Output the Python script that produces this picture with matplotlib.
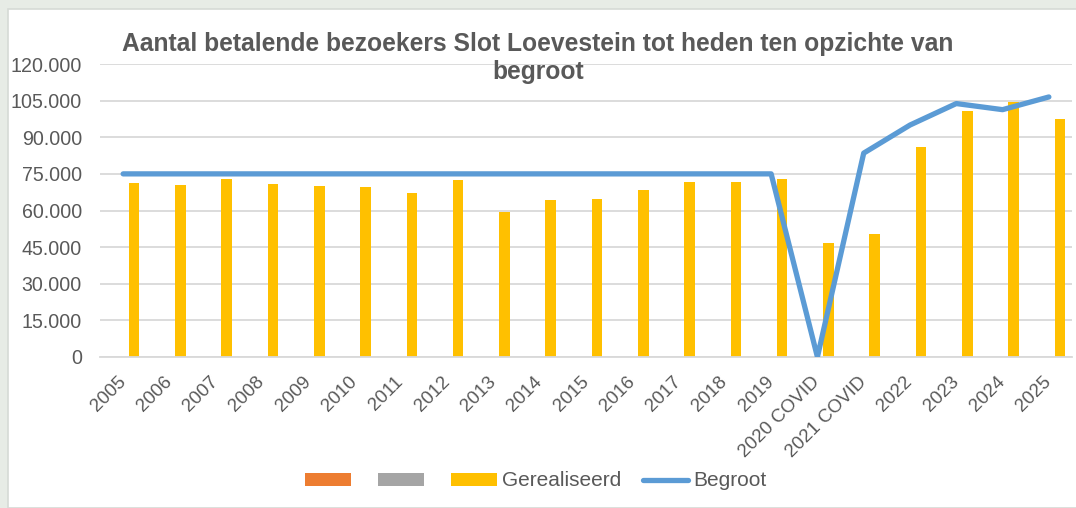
import matplotlib
matplotlib.use("Agg")
import matplotlib.pyplot as plt
import numpy as np
from matplotlib.patches import Patch, Rectangle
from matplotlib.ticker import FuncFormatter

plt.rcParams['font.family'] = ['Liberation Sans', 'DejaVu Sans']

categories = ['2005', '2006', '2007', '2008', '2009', '2010', '2011', '2012',
              '2013', '2014', '2015', '2016', '2017', '2018', '2019',
              '2020 COVID', '2021 COVID', '2022', '2023', '2024', '2025']
gerealiseerd = [71400, 70300, 72900, 70700, 70200, 69500, 67200, 72500,
                59400, 64400, 64800, 68200, 71500, 71800, 72700,
                46700, 50200, 86100, 100600, 104600, 97500]
begroot = [75000, 75000, 75000, 75000, 75000, 75000, 75000, 75000,
           75000, 75000, 75000, 75000, 75000, 75000, 75000,
           0, 83500, 95000, 103800, 101300, 106500]
series1 = [0] * len(categories)   # empty series (orange)
series2 = [0] * len(categories)   # empty series (gray)
yticks = [0, 15000, 30000, 45000, 60000, 75000, 90000, 105000, 120000]
title = 'Aantal betalende bezoekers Slot Loevestein tot heden ten opzichte van\nbegroot'

W, H = 1076, 508
fig = plt.figure(figsize=(W / 100, H / 100), dpi=100)
fig.patch.set_facecolor('#e7ece6')
fig.patches.append(Rectangle((8 / W, 0), 1, 1 - 9 / H, transform=fig.transFigure,
                             facecolor='white', edgecolor='#d6dad6', linewidth=1.2,
                             zorder=-5))

ax = fig.add_axes([100 / W, 1 - 357 / H, (1072 - 100) / W, (357 - 64) / H])
ax.set_zorder(2)
ax.set_facecolor('none')

x = np.arange(len(categories))
bw = 0.227
ax.bar(x - bw, series1, bw, color='#ED7D31', linewidth=0, zorder=2)
ax.bar(x, series2, bw, color='#A5A5A5', linewidth=0, zorder=2)
bars = ax.bar(x + 1.05 * bw, gerealiseerd, bw, color='#FFC000', linewidth=0, zorder=2)
line, = ax.plot(x, begroot, color='#5B9BD5', linewidth=3.8, zorder=3,
                solid_capstyle='round', solid_joinstyle='round')

ax.set_xlim(-0.5, len(categories) - 0.5)
ax.set_ylim(0, 120000)
ax.set_yticks(yticks)
ax.yaxis.set_major_formatter(FuncFormatter(lambda v, p: f'{int(v):,}'.replace(',', '.')))
ax.grid(axis='y', color='#d9d9d9', linewidth=1.3, zorder=0)
ax.set_axisbelow(True)
for s in ['top', 'right', 'left']:
    ax.spines[s].set_visible(False)
ax.spines['bottom'].set_color('#d9d9d9')
ax.spines['bottom'].set_linewidth(1.3)

ax.set_xticks(x)
ax.set_xticklabels(categories, rotation=45, ha='right', va='center',
                   rotation_mode='anchor')
ax.tick_params(axis='x', length=0, pad=16, labelsize=13.5, labelcolor='#595959')
ax.tick_params(axis='y', length=0, pad=13, labelsize=14.1, labelcolor='#595959')

fig.text(0.5, 1 - 79 / H, title, ha='center', va='baseline', fontsize=17.7,
         fontweight='bold', color='#595959', linespacing=1.2)

handles = [Patch(facecolor='#ED7D31'), Patch(facecolor='#A5A5A5'), bars, line]
labels = ['', '', 'Gerealiseerd', 'Begroot']
leg = fig.legend(handles, labels, ncol=4, loc='center',
                 bbox_to_anchor=(536 / W, 1 - 481 / H), frameon=False,
                 fontsize=15, handlelength=2.2, handleheight=0.57,
                 handletextpad=0.24, columnspacing=1.05, labelcolor='#595959')

fig.savefig('out.png', dpi=100, facecolor=fig.get_facecolor())
